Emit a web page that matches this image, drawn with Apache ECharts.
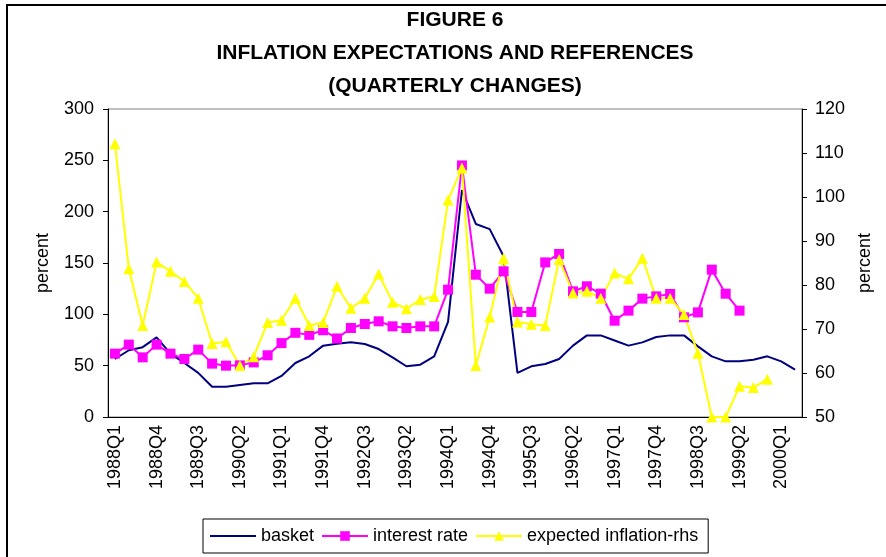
<!DOCTYPE html>
<html>
<head>
<meta charset="utf-8">
<script src="https://cdn.jsdelivr.net/npm/echarts@6/dist/echarts.min.js"></script>
<style>
html, body { margin: 0; padding: 0; background: #fff; }
#main { width: 886px; height: 557px; }
</style>
</head>
<body>
<div id="main"></div>
<script>
var quarters = [
    '1988Q1','1988Q2','1988Q3','1988Q4','1989Q1','1989Q2','1989Q3','1989Q4',
    '1990Q1','1990Q2','1990Q3','1990Q4','1991Q1','1991Q2','1991Q3','1991Q4',
    '1992Q1','1992Q2','1992Q3','1992Q4','1993Q1','1993Q2','1993Q3','1993Q4',
    '1994Q1','1994Q2','1994Q3','1994Q4','1995Q1','1995Q2','1995Q3','1995Q4',
    '1996Q1','1996Q2','1996Q3','1996Q4','1997Q1','1997Q2','1997Q3','1997Q4',
    '1998Q1','1998Q2','1998Q3','1998Q4','1999Q1','1999Q2','1999Q3','1999Q4',
    '2000Q1','2000Q2'
]

// left axis
var basket = [
    56.5, 65, 68, 77.6, 61.7, 52.6, 43, 29.5, 29.5, 31.2,
    32.8, 32.8, 40, 52.6, 59.1, 69.5, 71.4, 72.7, 71.1, 66.2,
    58.1, 49.4, 51, 59.1, 92.7, 221, 188, 183, 156.5, 43,
    49.4, 51.6, 56.5, 69.5, 79.5, 79.5, 74.5, 69.5, 72.7, 77.9,
    79.5, 79.5, 68.8, 59.1, 54.2, 54.2, 55.8, 59.1, 54.2, 46.1
]
var interestRate = [
    61.7, 70.5, 58.1, 70.5, 61.7, 56.5, 65.6, 52, 50, 50.3,
    53.2, 60.1, 72, 82, 80, 84.5, 76.5, 86.7, 90.6, 93.2,
    88.3, 86.7, 88.3, 88.3, 124, 245, 138.6, 125, 141.9, 102.3,
    102.3, 150.6, 158.8, 122.4, 127.3, 120.1, 93.8, 103.6, 115.3, 117.5,
    119.8, 97.1, 101.9, 143.5, 120.1, 103.6, null, null, null, null
]
// right axis
var expectedInflation = [
    112.1, 83.7, 70.8, 85.2, 83.1, 80.8, 77, 66.7, 67.1, 61.7,
    63.7, 71.5, 72, 77, 70.8, 71.5, 79.7, 74.7, 77, 82.5,
    76.1, 74.6, 76.7, 77.4, 99.3, 106.6, 61.7, 72.7, 86.1, 71.6,
    71.1, 70.8, 85.8, 78.2, 78.6, 77, 82.7, 81.4, 86.1, 77,
    77, 73.3, 64.5, 50, 50, 57, 56.7, 58.6, null, null
]

var font = 'Liberation Sans, Arial, sans-serif'
var myChart = echarts.init(document.getElementById('main'))

option = {
    backgroundColor: '#ffffff',
    animation: false,
    textStyle: { fontFamily: font },
    title: {
        text: 'FIGURE 6\nINFLATION EXPECTATIONS AND REFERENCES\n(QUARTERLY CHANGES)',
        left: 455,
        top: 4,
        textAlign: 'center',
        padding: 0,
        textStyle: {
            fontFamily: font,
            fontSize: 21,
            fontWeight: 'bold',
            color: '#000',
            lineHeight: 33
        }
    },
    grid: {
        left: 108,
        right: 84,
        top: 109,
        bottom: 140,
        show: true,
        borderColor: '#808080',
        borderWidth: 1
    },
    legend: {
        left: 203,
        top: 519,
        orient: 'horizontal',
        itemWidth: 46,
        itemHeight: 12,
        itemGap: 7,
        padding: [8, 10, 8, 6],
        borderColor: '#000',
        borderWidth: 1,
        textStyle: { fontFamily: font, fontSize: 18, color: '#000' },
        data: [
            { name: 'basket', itemStyle: { opacity: 0 } },
            'interest rate',
            'expected inflation-rhs'
        ]
    },
    xAxis: {
        type: 'category',
        data: quarters,
        boundaryGap: true,
        axisLine: { lineStyle: { color: '#000', width: 1 } },
        axisTick: { interval: 0, length: 5, lineStyle: { color: '#000' } },
        axisLabel: {
            interval: 2,
            rotate: 90,
            margin: 8,
            fontFamily: font,
            fontSize: 18,
            color: '#000'
        },
        splitLine: { show: false }
    },
    yAxis: [
        {
            type: 'value',
            min: 0,
            max: 300,
            interval: 50,
            name: 'percent',
            nameLocation: 'middle',
            nameRotate: 90,
            nameGap: 56,
            nameTextStyle: { fontFamily: font, fontSize: 18, color: '#000' },
            axisLine: { show: true, lineStyle: { color: '#000' } },
            axisTick: { show: true, length: 5, lineStyle: { color: '#000' } },
            axisLabel: { margin: 14, fontFamily: font, fontSize: 18, color: '#000' },
            splitLine: { show: false }
        },
        {
            type: 'value',
            min: 50,
            max: 120,
            interval: 10,
            position: 'right',
            name: 'percent',
            nameLocation: 'middle',
            nameRotate: 90,
            nameGap: 42,
            nameTextStyle: { fontFamily: font, fontSize: 18, color: '#000' },
            axisLine: { show: true, lineStyle: { color: '#000' } },
            axisTick: { show: true, length: 5, lineStyle: { color: '#000' } },
            axisLabel: { margin: 13, fontFamily: font, fontSize: 18, color: '#000' },
            splitLine: { show: false }
        }
    ],
    series: [
        {
            name: 'basket',
            type: 'line',
            yAxisIndex: 0,
            data: basket,
            symbol: 'none',
            lineStyle: { color: '#000080', width: 2 },
            itemStyle: { color: '#000080' }
        },
        {
            name: 'interest rate',
            type: 'line',
            yAxisIndex: 0,
            data: interestRate,
            symbol: 'rect',
            symbolSize: 10,
            showAllSymbol: true,
            lineStyle: { color: '#ff00ff', width: 2 },
            itemStyle: { color: '#ff00ff' }
        },
        {
            name: 'expected inflation-rhs',
            type: 'line',
            yAxisIndex: 1,
            data: expectedInflation,
            symbol: 'triangle',
            symbolSize: 11,
            showAllSymbol: true,
            lineStyle: { color: '#ffff00', width: 2 },
            itemStyle: { color: '#ffff00' }
        }
    ],
    graphic: [
        {
            type: 'polyline',
            shape: { points: [[7, 557], [7, 5], [886, 5]] },
            style: { stroke: '#000', lineWidth: 2, fill: null }
        }
    ]
}
myChart.setOption(option)
</script>
</body>
</html>
